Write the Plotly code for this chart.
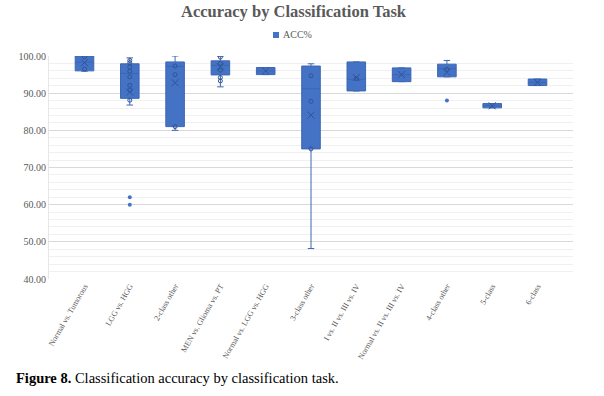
import plotly.graph_objects as go

categories = ["Normal vs. Tumorous", "LGG vs. HGG", "2-class other", "MEN vs. Glioma vs. PT",
              "Normal vs. LGG vs. HGG", "3-class other", "I vs. II vs. III vs. IV",
              "Normal vs. II vs. III vs. IV", "4-class other", "5-class", "6-class"]
q1 = [96.0, 88.6, 81.0, 94.9, 95.0, 75.0, 90.6, 93.1, 94.4, 86.05, 92.05]
median = [98.3, 95.3, 97.2, 97.5, 96.0, 91.2, 93.7, 95.0, 96.6, 86.6, 92.9]
q3 = [100.0, 97.9, 98.4, 98.7, 96.9, 97.3, 98.4, 96.8, 97.8, 87.2, 93.8]
lower_whisker = [95.9, 86.8, 80.0, 91.7, 95.0, 48.2, 90.6, 93.1, 94.4, 86.05, 92.05]
upper_whisker = [100.0, 99.5, 100.0, 99.9, 96.9, 97.9, 98.4, 96.8, 98.8, 87.2, 93.8]
means = [98.2, 90.3, 92.8, 97.1, 96.0, 84.1, 94.2, 95.0, 95.6, 86.6, 92.9]

inner_cat = ["Normal vs. Tumorous", "Normal vs. Tumorous",
             "LGG vs. HGG", "LGG vs. HGG", "LGG vs. HGG", "LGG vs. HGG", "LGG vs. HGG",
             "LGG vs. HGG", "LGG vs. HGG", "LGG vs. HGG",
             "2-class other", "2-class other", "2-class other",
             "MEN vs. Glioma vs. PT", "MEN vs. Glioma vs. PT", "MEN vs. Glioma vs. PT",
             "MEN vs. Glioma vs. PT", "MEN vs. Glioma vs. PT",
             "3-class other", "3-class other", "3-class other",
             "I vs. II vs. III vs. IV", "4-class other"]
inner_val = [96.5, 99.8,
             98.8, 98.2, 97.0, 95.9, 94.4, 92.1, 90.8, 88.1,
             97.3, 95.0, 81.0,
             99.7, 98.0, 96.2, 94.2, 93.3,
             94.7, 87.8, 75.0,
             93.9, 96.4]

outlier_cat = ["LGG vs. HGG", "LGG vs. HGG", "4-class other"]
outlier_val = [62.0, 60.0, 88.0]

series_name = "ACC%"

BLUE = "#4472C4"
DARK = "#2F5597"
GRAY = "#595959"
FONT = "Liberation Serif"

W, H = 604, 396
L, R, T, B = 49, 31, 56, 117
PW, PH = W - L - R, H - T - B


def px_x(px):
    return (px - L) / PW


def px_y(py):
    return (H - B - py) / PH


fig = go.Figure()
fig.add_trace(go.Box(
    x=categories, q1=q1, median=median, q3=q3,
    lowerfence=lower_whisker, upperfence=upper_whisker,
    fillcolor=BLUE, line=dict(color="#3D66B5", width=1),
    width=0.41, whiskerwidth=0.35, boxpoints=False, showlegend=False,
    hoverinfo="skip"))
fig.add_trace(go.Scatter(
    x=inner_cat, y=inner_val, mode="markers", showlegend=False,
    marker=dict(symbol="circle-open", size=4, color=DARK, line=dict(width=1))))
fig.add_trace(go.Scatter(
    x=categories, y=means, mode="markers", showlegend=False,
    marker=dict(symbol="x-thin-open", size=7, color=DARK, line=dict(width=1, color=DARK))))
fig.add_trace(go.Scatter(
    x=outlier_cat, y=outlier_val, mode="markers", showlegend=False, cliponaxis=False,
    marker=dict(symbol="circle", size=4, color=BLUE)))

fig.update_layout(
    width=W, height=H,
    margin=dict(l=L, r=R, t=T, b=B, autoexpand=False),
    paper_bgcolor="white", plot_bgcolor="white",
    font=dict(family=FONT, color=GRAY),
    title=dict(text="<b>Accuracy by Classification Task</b>", x=px_x(293.5), xref="paper",
               xanchor="center", y=1 - 11 / H, yanchor="middle",
               font=dict(family=FONT, size=16.5, color=GRAY)),
    showlegend=False,
    xaxis=dict(type="category", categoryorder="array", categoryarray=categories,
               tickangle=-60, tickfont=dict(family=FONT, size=8, color=GRAY),
               showgrid=False, zeroline=False, showline=False, ticks="", automargin=False),
    yaxis=dict(range=[40, 100], dtick=10, tickformat=".2f",
               tickfont=dict(family=FONT, size=10, color=GRAY),
               showgrid=True, gridcolor="#D9D9D9", gridwidth=1, zeroline=False,
               showline=True, linecolor="#E6E6E6", linewidth=1, ticks="", automargin=False,
               minor=dict(dtick=2, showgrid=True, gridcolor="#F0F0F0", gridwidth=1)),
)
# legend key
fig.add_shape(type="rect", xref="paper", yref="paper",
              x0=px_x(273), x1=px_x(279), y0=px_y(38), y1=px_y(32),
              fillcolor=BLUE, line=dict(width=0))
fig.add_annotation(text=series_name, xref="paper", yref="paper",
                   x=px_x(281), y=px_y(35), xanchor="left", yanchor="middle",
                   showarrow=False, font=dict(family=FONT, size=10, color=GRAY))
fig.add_annotation(
    text="<b>Figure 8.</b> Classification accuracy by classification task.",
    xref="paper", yref="paper", x=px_x(14), y=px_y(378),
    xanchor="left", yanchor="middle", showarrow=False,
    font=dict(family=FONT, size=14.5, color="black"))

fig.write_html("out.html", config={"displayModeBar": False},
               post_script="document.body.style.margin='0';document.body.style.padding='0';")
